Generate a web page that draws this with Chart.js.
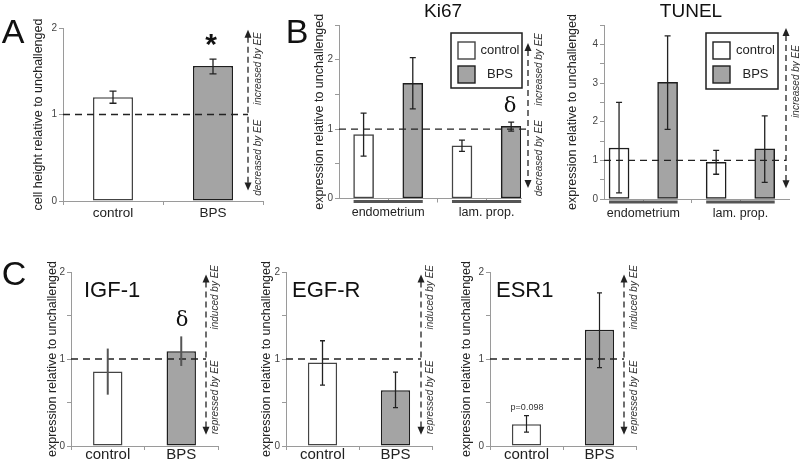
<!DOCTYPE html>
<html>
<head>
<meta charset="utf-8">
<script src="https://cdn.jsdelivr.net/npm/chart.js@4.4.1/dist/chart.umd.min.js"></script>
<style>
  html, body { margin: 0; padding: 0; background: #fff; }
  #wrap { position: relative; width: 800px; height: 461px; overflow: hidden; }
  #wrap canvas { position: absolute; left: 0; top: 0; }
</style>
</head>
<body>
<div id="wrap">
  <canvas id="cA" width="800" height="461"></canvas>
  <canvas id="cKi67" width="800" height="461"></canvas>
  <canvas id="cTunel" width="800" height="461"></canvas>
  <canvas id="cIgf" width="800" height="461"></canvas>
  <canvas id="cEgfr" width="800" height="461"></canvas>
  <canvas id="cEsr" width="800" height="461"></canvas>
</div>
<script>
// data
const treatLabels = ["control", "BPS"];

const cellHeight = [1.20, 1.56];
const cellHeightLo = [1.13, 1.47];
const cellHeightHi = [1.27, 1.64];

const tissueLabels = ["endometrium", "lam. prop."];
const ki67Control = [0.92, 0.76];
const ki67ControlLo = [0.61, 0.68];
const ki67ControlHi = [1.23, 0.84];
const ki67Bps = [1.66, 1.04];
const ki67BpsLo = [1.29, 0.97];
const ki67BpsHi = [2.03, 1.10];

const tunelControl = [1.32, 0.95];
const tunelControlLo = [0.16, 0.64];
const tunelControlHi = [2.50, 1.26];
const tunelBps = [3.02, 1.30];
const tunelBpsLo = [1.80, 0.43];
const tunelBpsHi = [4.22, 2.15];

const igf1 = [0.855, 1.09];
const igf1Lo = [0.59, 0.92];
const igf1Hi = [1.12, 1.26];

const egfr = [0.96, 0.64];
const egfrLo = [0.70, 0.44];
const egfrHi = [1.21, 0.85];

const esr1 = [0.25, 1.335];
const esr1Lo = [0.16, 0.90];
const esr1Hi = [0.35, 1.76];

const yTicksAC = [0, 1, 2];

// styles
const FONT = '"Liberation Sans", Arial, sans-serif';
const CTRL_FILL = "#ffffff", BPS_FILL = "#a4a4a4";
const CTRL_EDGE = "#444444", BPS_EDGE = "#1e1e1e";
const AXIS = "#9a9a9a";

Chart.defaults.font.family = FONT;
Chart.defaults.color = "#222";

function rotText(ctx, txt, x, y, font, color) {
    ctx.save();
    ctx.translate(x, y);
    ctx.rotate(-Math.PI / 2);
    ctx.font = font;
    ctx.fillStyle = color;
    ctx.textAlign = "center";
    ctx.textBaseline = "middle";
    ctx.fillText(txt, 0, 0);
    ctx.restore();
}

function vArrow(ctx, x, yTop, yBot) {
    ctx.save();
    ctx.strokeStyle = "#222";
    ctx.fillStyle = "#222";
    ctx.lineWidth = 1.3;
    ctx.setLineDash([6, 4]);
    ctx.beginPath();
    ctx.moveTo(x, yTop + 7);
    ctx.lineTo(x, yBot - 7);
    ctx.stroke();
    ctx.setLineDash([]);
    ctx.beginPath();
    ctx.moveTo(x, yTop); ctx.lineTo(x - 3.5, yTop + 8); ctx.lineTo(x + 3.5, yTop + 8);
    ctx.fill();
    ctx.beginPath();
    ctx.moveTo(x, yBot); ctx.lineTo(x - 3.5, yBot - 8); ctx.lineTo(x + 3.5, yBot - 8);
    ctx.fill();
    ctx.restore();
}

// per-panel decorations: error bars, reference line, arrows, labels
function makeDecor(p) {
    return {
        id: "decor",
        afterDatasetsDraw(chart) {
            const ctx = chart.ctx, y = chart.scales.y, area = chart.chartArea;
            // reference line at 1
            ctx.save();
            ctx.strokeStyle = "#222";
            ctx.lineWidth = 1.4;
            ctx.setLineDash([7, 5]);
            ctx.beginPath();
            ctx.moveTo(area.left, y.getPixelForValue(1));
            ctx.lineTo(p.arrow.x, y.getPixelForValue(1));
            ctx.stroke();
            ctx.restore();
            // error bars
            const eb = p.err;
            chart.data.datasets.forEach((ds, di) => {
                chart.getDatasetMeta(di).data.forEach((bar, i) => {
                    const lo = y.getPixelForValue(ds.errLo[i]);
                    const hi = y.getPixelForValue(ds.errHi[i]);
                    ctx.save();
                    ctx.strokeStyle = eb.color;
                    ctx.lineWidth = eb.width;
                    ctx.beginPath();
                    ctx.moveTo(bar.x, lo); ctx.lineTo(bar.x, hi);
                    if (eb.cap) {
                        ctx.moveTo(bar.x - eb.cap, lo); ctx.lineTo(bar.x + eb.cap, lo);
                        ctx.moveTo(bar.x - eb.cap, hi); ctx.lineTo(bar.x + eb.cap, hi);
                    }
                    ctx.stroke();
                    ctx.restore();
                });
            });
            // group underlines
            if (p.underline) {
                const m0 = chart.getDatasetMeta(0).data, m1 = chart.getDatasetMeta(1).data;
                ctx.save();
                ctx.strokeStyle = "#555";
                ctx.lineWidth = 3;
                m0.forEach((b, i) => {
                    ctx.beginPath();
                    ctx.moveTo(b.x - b.width / 2, area.bottom + 3);
                    ctx.lineTo(m1[i].x + m1[i].width / 2, area.bottom + 3);
                    ctx.stroke();
                });
                ctx.restore();
            }
        },
        afterDraw(chart) {
            const ctx = chart.ctx, y = chart.scales.y;
            vArrow(ctx, p.arrow.x, y.getPixelForValue(p.arrow.top), y.getPixelForValue(p.arrow.bottom));
            p.arrowTexts.forEach(t => {
                rotText(ctx, t.text, t.x, y.getPixelForValue(t.v), "italic 10px " + FONT, "#333");
            });
            (p.notes || []).forEach(n => {
                ctx.save();
                ctx.font = n.font;
                ctx.fillStyle = n.color || "#111";
                ctx.textAlign = n.align || "center";
                ctx.textBaseline = "middle";
                ctx.fillText(n.text, n.x, n.y);
                ctx.restore();
            });
            if (p.legend) {
                const L = p.legend;
                ctx.save();
                ctx.fillStyle = "#fff";
                ctx.fillRect(L.x, L.y, L.w, L.h);
                ctx.strokeStyle = "#1e1e1e";
                ctx.lineWidth = 1.5;
                ctx.strokeRect(L.x, L.y, L.w, L.h);
                chart.data.datasets.forEach((ds, i) => {
                    const sy = L.y + 9 + i * 24;
                    ctx.fillStyle = ds.backgroundColor;
                    ctx.fillRect(L.x + 7, sy, 17, 17);
                    ctx.strokeStyle = ds.borderColor;
                    ctx.lineWidth = 1.4;
                    ctx.strokeRect(L.x + 7, sy, 17, 17);
                    ctx.fillStyle = "#222";
                    ctx.font = "13px " + FONT;
                    ctx.textAlign = "center";
                    ctx.textBaseline = "middle";
                    ctx.fillText(ds.label, L.x + 27 + (L.w - 27) / 2, sy + 8.5);
                });
                ctx.restore();
            }
        }
    };
}

function makePanel(id, p) {
    const tSize = p.titleSize;
    const boxLeft = p.titleX - 0.6 * tSize;
    const xH = 24;
    const grouped = p.kind === "grouped";

    let datasets, xScale;
    if (grouped) {
        datasets = p.series.map((s, k) => ({
            label: s.name,
            data: s.values.map((v, g) => ({ x: 2 * g + k, y: v })),
            errLo: s.lo, errHi: s.hi,
            backgroundColor: s.fill, borderColor: s.edge,
            borderWidth: 1.5, borderSkipped: false,
            barThickness: 20, grouped: false
        }));
        xScale = {
            type: "linear", min: p.xMin, max: p.xMax, offset: false,
            afterBuildTicks: s => {
                s.ticks = [];
                for (let g = 0; g < p.groups.length; g++) {
                    s.ticks.push({ value: 2 * g + 0.5 });
                    if (g < p.groups.length - 1) s.ticks.push({ value: 2 * g + 1.5 });
                }
            },
            ticks: {
                autoSkip: false, maxRotation: 0, padding: 3,
                font: { size: p.xFont }, color: "#222",
                callback: v => {
                    const g = (v - 0.5) / 2;
                    return Number.isInteger(g) ? p.groups[g] : "";
                }
            },
            grid: { drawOnChartArea: false, tickLength: 4, color: AXIS, offset: false },
            border: { color: AXIS, width: 1 },
            afterFit: s => { s.height = xH; }
        };
    } else {
        datasets = [{
            label: "value",
            data: p.values,
            errLo: p.lo, errHi: p.hi,
            backgroundColor: [CTRL_FILL, BPS_FILL],
            borderColor: [CTRL_EDGE, BPS_EDGE],
            borderWidth: 1.5, borderSkipped: false,
            barPercentage: p.barPct, categoryPercentage: 1
        }];
        xScale = {
            type: "category", offset: true,
            ticks: { font: { size: p.xFont }, color: "#222", padding: p.xPad, maxRotation: 0 },
            grid: { drawOnChartArea: false, tickLength: 4, color: AXIS, offset: true },
            border: { color: AXIS, width: 1 },
            afterFit: s => { s.height = xH; }
        };
    }

    return new Chart(document.getElementById(id), {
        type: "bar",
        data: { labels: p.labels, datasets: datasets },
        options: {
            responsive: false,
            animation: false,
            events: [],
            layout: {
                padding: { left: boxLeft, right: 800 - p.area.r, top: p.area.t, bottom: 461 - p.area.b - xH }
            },
            plugins: { legend: { display: false }, tooltip: { enabled: false }, title: { display: false } },
            scales: {
                x: xScale,
                y: {
                    min: 0, max: p.yMax,
                    ticks: {
                        stepSize: p.yStep, autoSkip: false, padding: 2,
                        font: { size: 10 }, color: "#444",
                        callback: v => (p.yLabels.includes(v) ? String(v) : "")
                    },
                    grid: { drawOnChartArea: false, tickLength: 4, color: AXIS },
                    border: { color: AXIS, width: 1 },
                    title: { display: true, text: p.yTitle, font: { size: tSize }, color: "#222", padding: 0 },
                    afterFit: s => { s.width = p.area.l - boxLeft; }
                }
            }
        },
        plugins: [makeDecor(p)]
    });
}

const bigLetter = "34px " + FONT;
const deltaFont = '21px "DejaVu Serif", serif';
const geneFont = "22px " + FONT;

// A: cell height
makePanel("cA", {
    kind: "simple", labels: treatLabels,
    values: cellHeight, lo: cellHeightLo, hi: cellHeightHi,
    area: { l: 63, r: 263, t: 28, b: 201 },
    titleX: 39, titleSize: 12.5, yTitle: "cell height relative to unchallenged",
    yMax: 2, yStep: 1, yLabels: yTicksAC, xFont: 13.5, xPad: 0, barPct: 0.4,
    err: { color: "#222", width: 1.3, cap: 3.5 },
    arrow: { x: 248, top: 1.98, bottom: 0.12 },
    arrowTexts: [{ text: "increased by EE", x: 258, v: 1.53 }, { text: "decreased by EE", x: 258, v: 0.5 }],
    notes: [
        { text: "A", x: 13, y: 34, font: bigLetter },
        { text: "*", x: 211, y: 46, font: "bold 30px " + FONT }
    ]
});

// B: Ki67
makePanel("cKi67", {
    kind: "grouped", groups: tissueLabels,
    series: [
        { name: treatLabels[0], values: ki67Control, lo: ki67ControlLo, hi: ki67ControlHi, fill: CTRL_FILL, edge: CTRL_EDGE },
        { name: treatLabels[1], values: ki67Bps, lo: ki67BpsLo, hi: ki67BpsHi, fill: BPS_FILL, edge: BPS_EDGE }
    ],
    xMin: -0.5, xMax: 3.2,
    area: { l: 339, r: 521, t: 25, b: 198.5 },
    titleX: 320, titleSize: 12.5, yTitle: "expression relative to unchallenged",
    yMax: 2.5, yStep: 0.5, yLabels: yTicksAC, xFont: 12.5,
    err: { color: "#222", width: 1.3, cap: 3 },
    underline: true,
    arrow: { x: 528, top: 2.24, bottom: 0.15 },
    arrowTexts: [{ text: "increased by EE", x: 539, v: 1.86 }, { text: "decreased by EE", x: 539, v: 0.58 }],
    legend: { x: 451, y: 33, w: 71, h: 55 },
    notes: [
        { text: "B", x: 297, y: 34, font: bigLetter },
        { text: "Ki67", x: 443, y: 12, font: "19px " + FONT },
        { text: "\u03b4", x: 510, y: 107, font: deltaFont }
    ]
});

// B: TUNEL
makePanel("cTunel", {
    kind: "grouped", groups: tissueLabels,
    series: [
        { name: treatLabels[0], values: tunelControl, lo: tunelControlLo, hi: tunelControlHi, fill: CTRL_FILL, edge: BPS_EDGE },
        { name: treatLabels[1], values: tunelBps, lo: tunelBpsLo, hi: tunelBpsHi, fill: BPS_FILL, edge: BPS_EDGE }
    ],
    xMin: -0.31, xMax: 3.5,
    area: { l: 604, r: 789, t: 25, b: 199 },
    titleX: 573, titleSize: 12.5, yTitle: "expression relative to unchallenged",
    yMax: 4.5, yStep: 0.5, yLabels: [0, 1, 2, 3, 4], xFont: 12.5,
    err: { color: "#222", width: 1.3, cap: 3 },
    underline: true,
    arrow: { x: 786, top: 4.42, bottom: 0.28 },
    arrowTexts: [{ text: "increased by EE", x: 796, v: 3.04 }],
    legend: { x: 706, y: 33, w: 72, h: 56 },
    notes: [
        { text: "TUNEL", x: 691, y: 12, font: "19px " + FONT }
    ]
});

// C: IGF-1
makePanel("cIgf", {
    kind: "simple", labels: treatLabels,
    values: igf1, lo: igf1Lo, hi: igf1Hi,
    area: { l: 71, r: 218, t: 272, b: 446 },
    titleX: 53, titleSize: 12.5, yTitle: "expression relative to unchallenged",
    yMax: 2, yStep: 0.5, yLabels: yTicksAC, xFont: 15, xPad: -4, barPct: 0.4,
    err: { color: "#555", width: 2, cap: 0 },
    arrow: { x: 206, top: 1.97, bottom: 0.13 },
    arrowTexts: [{ text: "induced by EE", x: 215, v: 1.71 }, { text: "repressed by EE", x: 215, v: 0.56 }],
    notes: [
        { text: "C", x: 14, y: 276, font: bigLetter },
        { text: "IGF-1", x: 84, y: 291, font: geneFont, align: "left" },
        { text: "\u03b4", x: 182, y: 321, font: deltaFont }
    ]
});

// C: EGF-R
makePanel("cEgfr", {
    kind: "simple", labels: treatLabels,
    values: egfr, lo: egfrLo, hi: egfrHi,
    area: { l: 286, r: 432, t: 272, b: 446 },
    titleX: 267, titleSize: 12.5, yTitle: "expression relative to unchallenged",
    yMax: 2, yStep: 0.5, yLabels: yTicksAC, xFont: 15, xPad: -4, barPct: 0.4,
    err: { color: "#222", width: 1.3, cap: 2.5 },
    arrow: { x: 421, top: 1.97, bottom: 0.13 },
    arrowTexts: [{ text: "induced by EE", x: 430, v: 1.71 }, { text: "repressed by EE", x: 430, v: 0.56 }],
    notes: [
        { text: "EGF-R", x: 292, y: 291, font: geneFont, align: "left" }
    ]
});

// C: ESR1
makePanel("cEsr", {
    kind: "simple", labels: treatLabels,
    values: esr1, lo: esr1Lo, hi: esr1Hi,
    area: { l: 490, r: 636, t: 272, b: 446 },
    titleX: 467, titleSize: 12.5, yTitle: "expression relative to unchallenged",
    yMax: 2, yStep: 0.5, yLabels: yTicksAC, xFont: 15, xPad: -4, barPct: 0.4,
    err: { color: "#222", width: 1.2, cap: 2.5 },
    arrow: { x: 624, top: 1.97, bottom: 0.13 },
    arrowTexts: [{ text: "induced by EE", x: 634, v: 1.71 }, { text: "repressed by EE", x: 634, v: 0.56 }],
    notes: [
        { text: "ESR1", x: 496, y: 291, font: geneFont, align: "left" },
        { text: "p=0.098", x: 527, y: 408, font: "9px " + FONT, color: "#333" }
    ]
});
</script>
</body>
</html>
